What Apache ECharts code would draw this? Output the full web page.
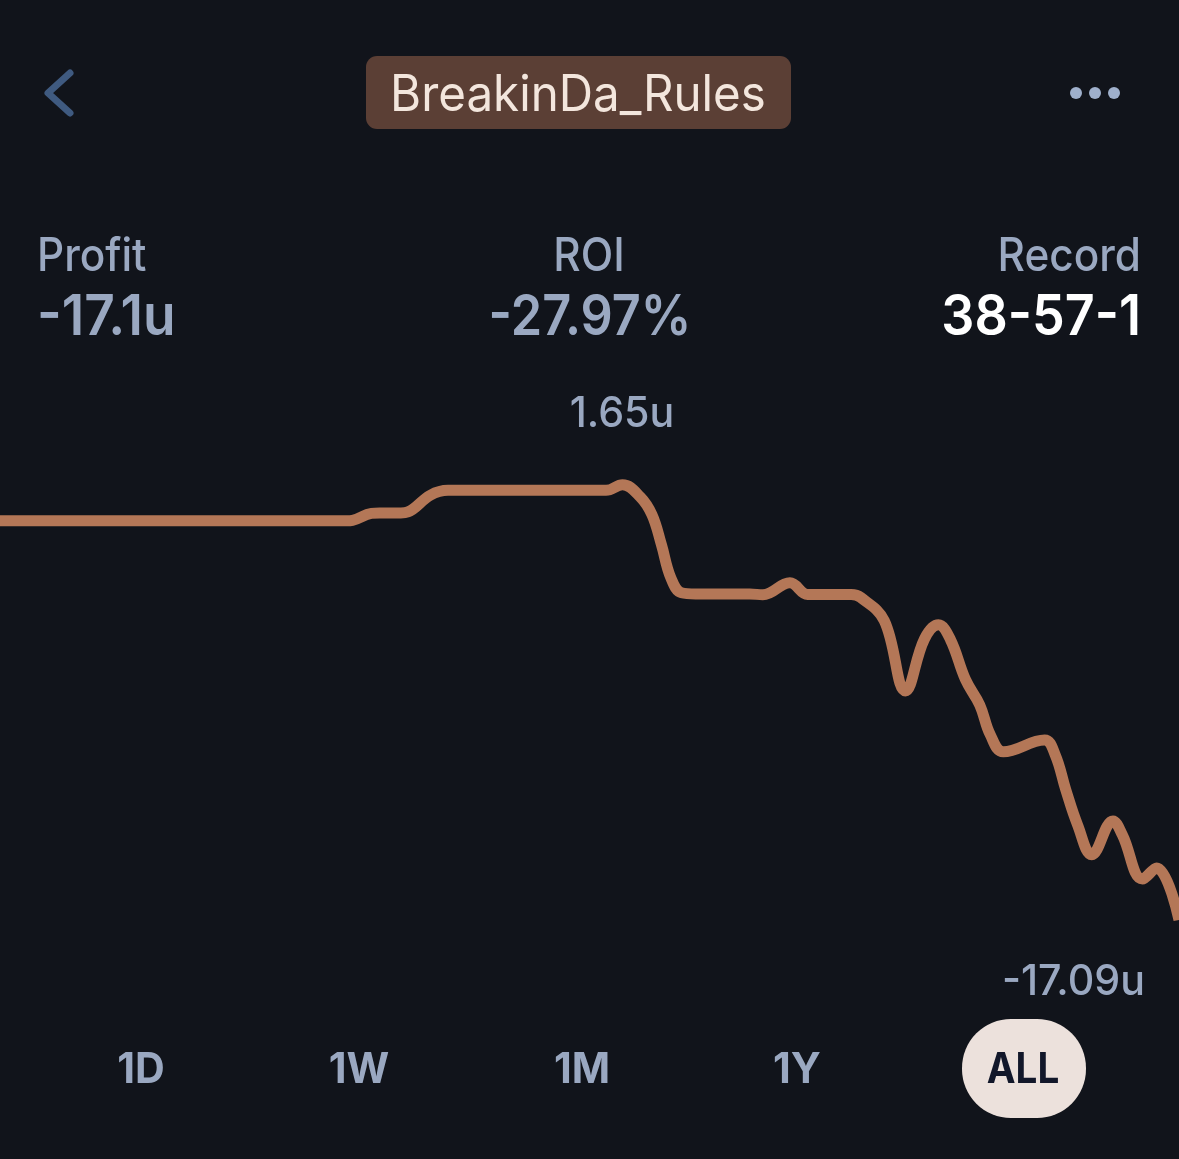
<!DOCTYPE html>
<html>
<head>
<meta charset="utf-8">
<title>BreakinDa_Rules</title>
<style>
  html, body { margin: 0; padding: 0; background: #11141b; }
  #chart { width: 1179px; height: 1159px; }
</style>
<script src="https://cdn.jsdelivr.net/npm/echarts@6/dist/echarts.min.js"></script>
</head>
<body>
<div id="chart"></div>
<script>
// share of the timeline (%)
const timeline = [0, 29.4, 29.9, 31.5, 32.2, 34.0, 34.6, 36.5, 38.0, 39.0, 50.5, 51.4, 52.8, 54.3, 55.3, 56.1, 56.9, 57.8, 59.0, 63.6, 64.7, 67.0, 68.5, 69.5, 72.2, 73.0, 75.0, 76.8, 78.4, 79.6, 80.6, 81.9, 83.1, 84.0, 85.1, 88.6, 89.5, 90.4, 91.4, 92.6, 94.4, 95.2, 96.9, 98.1, 100];
// profit in units
const profit = [0.1, 0.1, 0.12, 0.42, 0.44, 0.44, 0.48, 1.2, 1.41, 1.41, 1.41, 1.41, 1.65, 1.13, 0.36, -0.93, -2.36, -3.0, -3.05, -3.05, -3.09, -2.57, -3.07, -3.07, -3.07, -3.2, -4.2, -7.23, -5.0, -4.38, -5.0, -6.75, -7.83, -9.12, -9.85, -9.34, -9.98, -11.49, -13.0, -14.28, -12.83, -13.43, -15.33, -14.85, -17.09];
const ranges = ["1D", "1W", "1M", "1Y", "ALL"];
const rangeX = [141, 359, 582, 797, 1023];

const INK = "#9aa8c1";
const FONT = "Inter, 'Noto Sans', sans-serif";

function label(x, y, text, size, weight, fill, align, scaleX) {
  return {
    type: "text",
    x: x,
    y: y,
    scaleX: scaleX,
    z: 10,
    style: {
      text: text,
      fill: fill,
      font: weight + " " + size + "px " + FONT,
      textAlign: align,
      textVerticalAlign: "middle",
    },
  };
}

const myChart = echarts.init(document.getElementById("chart"));

const elements = [
  // header
  { type: "rect", shape: { x: 366, y: 56, width: 425, height: 73, r: 11 }, style: { fill: "#5b3f35" } },
  { type: "polyline", shape: { points: [[70, 73], [48, 93], [70, 113]] }, style: { stroke: "#3f5a80", lineWidth: 7, fill: null, lineCap: "round", lineJoin: "round" } },
  { type: "circle", shape: { cx: 1076, cy: 93, r: 6 }, style: { fill: "#9fb0cc" } },
  { type: "circle", shape: { cx: 1095, cy: 93, r: 6 }, style: { fill: "#9fb0cc" } },
  { type: "circle", shape: { cx: 1114, cy: 93, r: 6 }, style: { fill: "#9fb0cc" } },
  label(578, 96, "BreakinDa_Rules", 50, 400, "#f3e6dd", "center", 0.95),
  // stats
  label(37, 257, "Profit", 46, 500, INK, "left", 0.92),
  label(37, 318, "-17.1u", 56, 600, INK, "left", 0.95),
  label(589, 257, "ROI", 46, 500, INK, "center", 0.92),
  label(590, 318, "-27.97%", 56, 600, INK, "center", 0.9),
  label(1141, 257, "Record", 46, 500, INK, "right", 0.92),
  label(1141, 318, "38-57-1", 56, 600, "#ffffff", "right", 0.93),
  // extremes
  label(622, 414, "1.65u", 42, 500, INK, "center", 0.98),
  label(1145, 982, "-17.09u", 42, 500, INK, "right", 0.98),
  // range selector
  { type: "rect", shape: { x: 962, y: 1019, width: 124, height: 99, r: 49 }, style: { fill: "#ece1dc" } },
];
ranges.forEach(function (r, i) {
  const active = r === "ALL";
  elements.push(label(rangeX[i], 1070, r, 42, 700, active ? "#12172a" : INK, "center", active ? 0.92 : 0.98));
});

const option = {
  backgroundColor: "#11141b",
  animation: false,
  grid: { left: 0, right: 0, top: 407, bottom: 171.5 },
  xAxis: { type: "value", min: 0, max: 100, show: false },
  yAxis: { type: "value", min: -20, max: 5, show: false },
  series: [
    {
      type: "line",
      data: timeline.map(function (t, i) { return [t, profit[i]]; }),
      smooth: 0.4,
      showSymbol: false,
      lineStyle: { color: "#b47757", width: 11 },
    },
  ],
  graphic: { elements: elements },
};

myChart.setOption(option);
</script>
</body>
</html>
